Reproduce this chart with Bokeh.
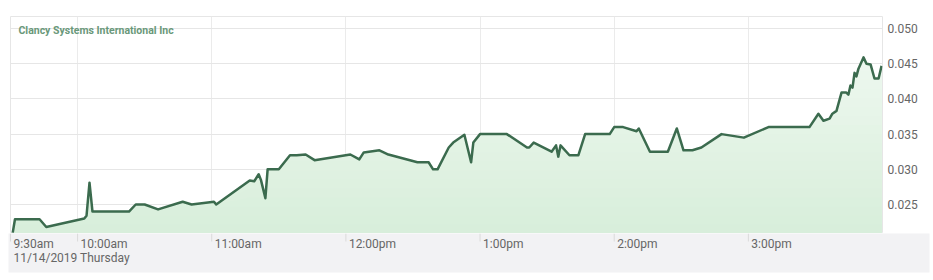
import numpy as np
from bokeh.plotting import figure
from bokeh.layouts import column
from bokeh.models import Range1d, FixedTicker, PrintfTickFormatter, Label
from bokeh.core.properties import value
from bokeh.embed import file_html
from bokeh.resources import INLINE

# ---------------- data ----------------
title_text = "Clancy Systems International Inc"
date_label = "11/14/2019 Thursday"
session_start = "9:30"
session_end = "16:00"
tick_times = ["9:30", "10:00", "11:00", "12:00", "13:00", "14:00", "15:00"]
tick_labels = ["9:30am", "10:00am", "11:00am", "12:00pm", "1:00pm", "2:00pm", "3:00pm"]
y_ticks = [0.025, 0.030, 0.035, 0.040, 0.045, 0.050]
y_bounds = [0.02088, 0.05171]

times = ["9:31", "9:32", "9:43", "9:46", "10:03", "10:04", "10:05:20", "10:06:40",
         "10:23", "10:26", "10:30", "10:36", "10:47", "10:51", "11:01", "11:02",
         "11:17", "11:19", "11:21", "11:22", "11:24", "11:25", "11:30", "11:35",
         "11:38", "11:42", "11:46", "12:02", "12:06", "12:08", "12:15", "12:19",
         "12:32", "12:37", "12:39", "12:41", "12:46", "12:48", "12:53", "12:56",
         "12:57", "13:00", "13:12", "13:21", "13:22", "13:24", "13:32", "13:34",
         "13:35", "13:36", "13:40", "13:44", "13:47", "13:58", "14:00", "14:04",
         "14:10", "14:11", "14:16", "14:24", "14:28", "14:31", "14:35", "14:39",
         "14:48", "14:58", "15:09", "15:27:20", "15:31:20", "15:33:35", "15:36:20",
         "15:37:35", "15:39:25", "15:41:40", "15:43:50", "15:44:45", "15:45:40",
         "15:46:35", "15:47:30", "15:48:20", "15:49:15", "15:51:30", "15:52:50",
         "15:54:40", "15:56:25", "15:58:15", "15:59:35"]
prices = [0.0210, 0.0229, 0.0229, 0.0218, 0.0230, 0.0234, 0.0281, 0.0240,
          0.0240, 0.0250, 0.0250, 0.0243, 0.0254, 0.0250, 0.0254, 0.0250,
          0.0284, 0.0283, 0.0293, 0.0285, 0.0259, 0.0300, 0.0300, 0.0320,
          0.0320, 0.0321, 0.0313, 0.0321, 0.0314, 0.0324, 0.0327, 0.0321,
          0.0310, 0.0310, 0.0300, 0.0300, 0.0331, 0.0338, 0.0349, 0.0310,
          0.0338, 0.0350, 0.0350, 0.0331, 0.0331, 0.0338, 0.0325, 0.0334,
          0.0318, 0.0334, 0.0320, 0.0320, 0.0350, 0.0350, 0.0360, 0.0360,
          0.0354, 0.0358, 0.0325, 0.0325, 0.0358, 0.0327, 0.0327, 0.0331,
          0.0350, 0.0345, 0.0360, 0.0360, 0.0379, 0.0369, 0.0372,
          0.0379, 0.0383, 0.0409, 0.0409, 0.0406, 0.0419,
          0.0416, 0.0437, 0.0432, 0.0443, 0.0459, 0.0450,
          0.0449, 0.0429, 0.0429, 0.0447]


def to_min(s):
    parts = [int(v) for v in s.split(":")]
    while len(parts) < 3:
        parts.append(0)
    return parts[0] * 60 + parts[1] + parts[2] / 60.0


x = np.array([to_min(t) for t in times])
y = np.array(prices)
x0, x1 = to_min(session_start), to_min(session_end)
y_lo, y_hi = y_bounds
tick_x = [to_min(t) for t in tick_times]

FONT = "Roboto"
LABEL_COLOR = "#666666"
GRID_COLOR = "#e6e6e6"
LINE_COLOR = "#3b6b4e"
BAND_COLOR = "#f2f2f4"

# ---------------- main chart ----------------
p = figure(width=933, height=233, x_range=Range1d(x0, x1), y_range=Range1d(y_lo, y_hi),
           x_axis_location=None, y_axis_location="right",
           output_backend="svg", toolbar_location=None,
           min_border_left=10, min_border_right=51, min_border_top=16, min_border_bottom=0)
p.background_fill_color = "white"
p.border_fill_color = "white"
p.outline_line_color = GRID_COLOR

p.ygrid.ticker = FixedTicker(ticks=y_ticks)
p.ygrid.grid_line_color = GRID_COLOR
p.xgrid.ticker = FixedTicker(ticks=tick_x[1:])
p.xgrid.grid_line_color = "#ebebeb"

ax = p.yaxis[0]
ax.ticker = FixedTicker(ticks=y_ticks)
ax.formatter = PrintfTickFormatter(format="%.3f")
ax.axis_line_color = None
ax.major_tick_line_color = None
ax.minor_tick_line_color = None
ax.major_tick_out = 0
ax.major_tick_in = 0
ax.major_label_standoff = 5
ax.major_label_text_font = FONT
ax.major_label_text_font_size = "12px"
ax.major_label_text_color = LABEL_COLOR

# gradient-like fill under the line (paler towards the top)
n_bands = 24
levels = np.linspace(y_lo, y_hi, n_bands + 1)[1:]
c_bottom = np.array([0xd8, 0xee, 0xdb], dtype=float)
c_top = np.array([0xf2, 0xfa, 0xf3], dtype=float)
for k in range(n_bands - 1, -1, -1):
    frac = k / (n_bands - 1)
    c = c_bottom + (c_top - c_bottom) * frac
    col = "#%02x%02x%02x" % tuple(int(round(v)) for v in c)
    cap = np.minimum(y, levels[k])
    p.varea(x=x, y1=y_lo, y2=cap, fill_color=col, fill_alpha=1.0)

p.line(x, y, line_color=LINE_COLOR, line_width=2.5, line_join="round")

title = Label(x=x0, y=y_hi, x_offset=8, y_offset=-14, text=title_text,
              text_font=FONT, text_font_size="10.5px", text_font_style="bold",
              text_color="#6a987a", text_baseline="middle", text_align="left")
p.add_layout(title)

# ---------------- time axis band ----------------
px_min = (x1 - x0) / 872.0
band = figure(width=933, height=47,
              x_range=Range1d(x0 - 2 * px_min, x1 + 47 * px_min), y_range=Range1d(0, 39),
              x_axis_location=None, y_axis_location=None,
              output_backend="svg", toolbar_location=None,
              min_border_left=8, min_border_right=4, min_border_top=0, min_border_bottom=8)
if "frame_align" in band.properties():
    band.frame_align = False
    p.frame_align = False
band.background_fill_color = BAND_COLOR
band.border_fill_color = "white"
band.outline_line_color = None
band.xgrid.visible = False
band.ygrid.visible = False

band.segment(x0=tick_x, y0=[39] * len(tick_x), x1=tick_x, y1=[31] * len(tick_x),
             line_color="#dadada", line_width=1)
band.text(x=tick_x, y=[29] * len(tick_x), text=tick_labels, x_offset=3,
          text_align="left", text_baseline="middle", text_font=value(FONT),
          text_font_size="12px", text_color=LABEL_COLOR)
band.text(x=[x0], y=[15], text=[date_label], x_offset=3,
          text_align="left", text_baseline="middle", text_font=value(FONT),
          text_font_size="12px", text_color=LABEL_COLOR)

layout = column(p, band, spacing=0)
open("out.html", "w").write(file_html(layout, INLINE))
